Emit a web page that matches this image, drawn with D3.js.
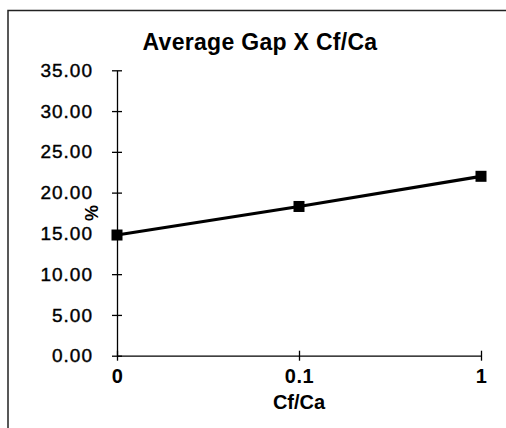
<!DOCTYPE html>
<html>
<head>
<meta charset="utf-8">
<script src="https://cdn.jsdelivr.net/npm/d3@7"></script>
<style>
  html, body { margin: 0; padding: 0; background: #fff; }
  svg { display: block; }
  text { font-family: "Liberation Sans", Arial, sans-serif; fill: #000; }
</style>
</head>
<body>
<svg id="chart" width="506" height="428"></svg>
<script>
// Chart data
const categories = ["0", "0.1", "1"];
const gapValues = [14.8, 18.3, 22.0];
const yTicks = [0, 5, 10, 15, 20, 25, 30, 35];
const chartTitle = "Average Gap X Cf/Ca";
const xTitle = "Cf/Ca";
const yTitle = "%";

const svg = d3.select("#chart");
const W = 506, H = 428;
const plot = { left: 117, right: 481, top: 70.3, bottom: 355.7 };

// Outer frame (top and left edges)
svg.append("path")
  .attr("d", `M8,${H} L8,10.5 L${W},10.5`)
  .attr("fill", "none")
  .attr("stroke", "#222")
  .attr("stroke-width", 1.5);

const x = d3.scalePoint().domain(categories).range([plot.left, plot.right]);
const y = d3.scaleLinear().domain([0, 35]).range([plot.bottom, plot.top]);

// Y axis with ticks crossing the axis line
const yAxis = svg.append("g").attr("transform", `translate(${plot.left},0)`)
  .call(d3.axisLeft(y).tickValues(yTicks).tickFormat(d3.format(".2f"))
    .tickSizeInner(5).tickSizeOuter(0).tickPadding(19));
yAxis.select(".domain").attr("stroke", "#000").attr("stroke-width", 1.3);
yAxis.selectAll(".tick line").attr("x2", -5).attr("x1", 5).attr("stroke", "#000").attr("stroke-width", 1.3);
yAxis.selectAll(".tick text")
  .attr("font-size", 19).attr("letter-spacing", 1)
  .attr("font-family", "Liberation Sans, Arial, sans-serif")
  .attr("fill", "#000").attr("stroke", "#000").attr("stroke-width", 0.4);

// X axis
const xAxis = svg.append("g").attr("transform", `translate(0,${plot.bottom})`)
  .call(d3.axisBottom(x).tickSizeInner(5).tickSizeOuter(0).tickPadding(8));
xAxis.select(".domain").attr("stroke", "#000").attr("stroke-width", 1.3);
xAxis.selectAll(".tick line").attr("y1", -5).attr("y2", 5).attr("stroke", "#000").attr("stroke-width", 1.3);
xAxis.selectAll(".tick text")
  .attr("font-size", 20).attr("font-weight", "bold").attr("letter-spacing", 0.5)
  .attr("font-family", "Liberation Sans, Arial, sans-serif")
  .attr("fill", "#000");

// Data line and square markers
const line = d3.line().x((d, i) => x(categories[i])).y(d => y(d));
svg.append("path")
  .datum(gapValues)
  .attr("d", line)
  .attr("fill", "none")
  .attr("stroke", "#000")
  .attr("stroke-width", 3.2);

const m = 11;
svg.selectAll("rect.marker")
  .data(gapValues)
  .enter().append("rect")
  .attr("class", "marker")
  .attr("x", (d, i) => x(categories[i]) - m / 2)
  .attr("y", d => y(d) - m / 2)
  .attr("width", m)
  .attr("height", m)
  .attr("fill", "#000");

// Titles
svg.append("text")
  .attr("x", 260).attr("y", 50)
  .attr("text-anchor", "middle")
  .attr("font-size", 23).attr("font-weight", "bold").attr("letter-spacing", 0.3)
  .text(chartTitle);

svg.append("text")
  .attr("x", 299).attr("y", 409)
  .attr("text-anchor", "middle")
  .attr("font-size", 20).attr("font-weight", "bold")
  .text(xTitle);

svg.append("text")
  .attr("transform", "translate(98,213) rotate(-90)")
  .attr("text-anchor", "middle")
  .attr("font-size", 18).attr("font-weight", "bold")
  .text(yTitle);
</script>
</body>
</html>
